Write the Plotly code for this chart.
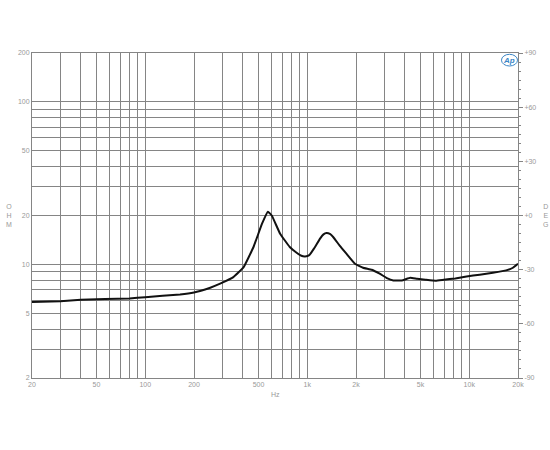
import plotly.graph_objects as go

freq_hz = [20, 30, 40, 80, 100, 164, 200, 218, 252, 290, 350, 405, 466, 526, 572,
           604, 680, 780, 860, 920, 970, 1030, 1100, 1200, 1260, 1315, 1380, 1450, 1590,
           1750, 1970, 2210, 2500, 2800, 3100, 3400, 3830, 4330, 4760, 5370, 6200, 6970,
           8200, 9620, 11600, 14000, 16900, 18600, 20000]
impedance_ohm = [5.88, 5.94, 6.06, 6.18, 6.29, 6.54, 6.72, 6.86, 7.19, 7.61, 8.35, 9.62,
                 12.8, 17.8, 21.1, 20.0, 15.45, 12.8, 11.8, 11.3, 11.2, 11.4, 12.5, 14.4,
                 15.3, 15.6, 15.4, 14.7, 13.0, 11.6, 10.1, 9.54, 9.27, 8.77, 8.24, 7.97,
                 7.97, 8.28, 8.16, 8.05, 7.94, 8.05, 8.2, 8.43, 8.64, 8.89, 9.19, 9.54, 10.1]

x_grid = [20, 30, 40, 50, 60, 70, 80, 90, 100, 200, 300, 400, 500, 600, 700, 800, 900,
          1000, 2000, 3000, 4000, 5000, 6000, 7000, 8000, 9000, 10000, 20000]
x_labels = {20: "20", 50: "50", 100: "100", 200: "200", 500: "500", 1000: "1k",
            2000: "2k", 5000: "5k", 10000: "10k", 20000: "20k"}
y_grid = [2, 3, 4, 5, 6, 7, 8, 9, 10, 20, 30, 40, 50, 60, 70, 80, 90, 100, 200]
y_labels = {2: "2", 5: "5", 10: "10", 20: "20", 50: "50", 100: "100", 200: "200"}
deg_ticks = [-90, -60, -30, 0, 30, 60, 90]
deg_labels = ["-90", "-60", "-30", "+0", "+30", "+60", "+90"]

GRID = "#858585"
TXT = "#999999"
FONT = dict(family="Liberation Sans, Arial, sans-serif", size=7, color=TXT)

fig = go.Figure()
fig.add_trace(go.Scatter(x=freq_hz, y=impedance_ohm, mode="lines",
                         line=dict(color="#111111", width=2, shape="spline", smoothing=0.3),
                         hoverinfo="skip", showlegend=False))
fig.add_trace(go.Scatter(x=[20], y=[0], yaxis="y2", mode="markers",
                         marker=dict(opacity=0), showlegend=False, hoverinfo="skip"))

fig.update_layout(
    width=550, height=450,
    margin=dict(l=32, r=32, t=53, b=72, autoexpand=False),
    paper_bgcolor="white", plot_bgcolor="white",
    font=FONT,
    xaxis=dict(type="log", range=[1.30103, 4.30103], automargin=False,
               tickvals=x_grid, ticktext=[x_labels.get(v, "") for v in x_grid],
               showgrid=True, gridcolor=GRID, gridwidth=1,
               showline=True, linecolor=GRID, linewidth=1, mirror=True,
               ticks="", tickfont=FONT, zeroline=False),
    yaxis=dict(type="log", range=[0.30103, 2.30103], automargin=False,
               tickvals=y_grid, ticktext=[y_labels.get(v, "") for v in y_grid],
               showgrid=True, gridcolor=GRID, gridwidth=1,
               showline=True, linecolor=GRID, linewidth=1, mirror=True,
               ticks="", tickfont=FONT, zeroline=False),
    yaxis2=dict(overlaying="y", side="right", range=[-90, 90], automargin=False,
                tickvals=deg_ticks, ticktext=deg_labels,
                showgrid=False, zeroline=False, showline=False,
                ticks="outside", ticklen=4, tickcolor=GRID, tickfont=FONT,
                minor=dict(dtick=5, ticks="outside", ticklen=2, tickcolor=GRID, showgrid=False)),
    shapes=[dict(type="circle", xref="paper", yref="paper", x0=0.966, x1=0.999,
                 y0=0.96, y1=0.996, line=dict(color="#3b86c6", width=1))],
    annotations=[
        dict(text="Hz", xref="paper", yref="paper", x=0.5, y=-0.035, showarrow=False,
             font=FONT, xanchor="center", yanchor="top"),
        dict(text="O<br>H<br>M", xref="paper", yref="paper", x=-0.047, y=0.5, showarrow=False,
             font=FONT, xanchor="center", yanchor="middle"),
        dict(text="D<br>E<br>G", xref="paper", yref="paper", x=1.056, y=0.5, showarrow=False,
             font=FONT, xanchor="center", yanchor="middle"),
        dict(text="<i><b>Ap</b></i>", xref="paper", yref="paper", x=0.9825, y=0.978, showarrow=False,
             font=dict(family=FONT["family"], size=8, color="#3b86c6"), xanchor="center", yanchor="middle"),
    ],
)

fig.write_html("out.html", config={"displayModeBar": False},
               post_script="document.body.style.margin='0';document.body.style.overflow='hidden';")
